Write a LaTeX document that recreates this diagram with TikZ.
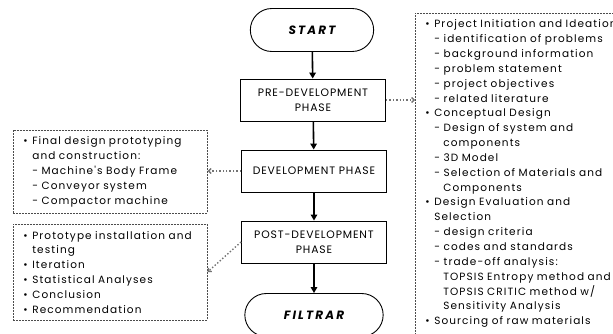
\documentclass[tikz,border=0pt]{standalone}
\usepackage{fontspec}
\setmainfont{Poppins}
\newfontfamily\notefont[LetterSpace=10.5]{Poppins}
\newfontfamily\phasefont[LetterSpace=8]{Poppins}
\newfontfamily\termfont[LetterSpace=18]{Poppins}
\usetikzlibrary{arrows.meta,shapes.misc}

\newcommand{\bul}{\makebox[9pt][l]{\textbullet}}
\newcommand{\ind}{\hspace*{9pt}}

\begin{document}
\begin{tikzpicture}[x=1pt,y=-1pt]

\tikzset{
  TermStyle/.style = { rounded rectangle, draw, line width=0.9pt,
                       minimum width=130pt, minimum height=43pt,
                       font = \termfont\fontsize{12}{14}\selectfont\bfseries\itshape },
  PhaseStyle/.style = { rectangle, draw, line width=0.9pt,
                        minimum width=145pt, minimum height=42pt,
                        align=center, font = \phasefont\fontsize{10.8}{15}\selectfont },
  NoteStyle/.style = { rectangle, draw=black!70, dash pattern=on 2pt off 1pt,
                       line width=0.6pt, anchor=north west, align=left,
                       inner xsep=10pt, inner ysep=6.5pt,
                       font = \notefont\fontsize{10.5}{14.85}\selectfont },
  FlowStyle/.style = { -{Triangle[length=6pt,width=6.5pt]}, line width=1.6pt },
  LinkStyle/.style = { -{Straight Barb[length=2.5pt,width=5pt]}, dotted,
                       line width=1.4pt, draw=black!55 } }

  \useasboundingbox (0,0) rectangle (613,334);
  \clip (0,0) rectangle (613,334);

  \node[TermStyle] (start) at (312, 30) {START};
  \node[PhaseStyle] (pre) at (313, 100) {PRE-DEVELOPMENT\\PHASE};
  \node[PhaseStyle] (dev) at (314, 171) {DEVELOPMENT PHASE};
  \node[PhaseStyle] (post) at (314, 242) {POST-DEVELOPMENT\\PHASE};
  \node[TermStyle, minimum width=145pt] (end) at (314, 315) {FILTRAR};

  \node[NoteStyle, text width=240pt] (preNote) at (415, 13)
    {\bul Project Initiation and Ideation\\
     \ind - identification of problems\\
     \ind - background information\\
     \ind - problem statement\\
     \ind - project objectives\\
     \ind - related literature\\
     \bul Conceptual Design\\
     \ind - Design of system and\\
     \ind\ind components\\
     \ind - 3D Model\\
     \ind - Selection of Materials and\\
     \ind\ind Components\\
     \bul Design Evaluation and\\
     \ind Selection\\
     \ind - design criteria\\
     \ind - codes and standards\\
     \ind - trade-off analysis:\\
     \ind\ind TOPSIS Entropy method and\\
     \ind\ind TOPSIS CRITIC method w/\\
     \ind\ind Sensitivity Analysis\\
     \bul Sourcing of raw materials\\
     \rule{0pt}{20pt}};

  \node[NoteStyle, text width=174pt, minimum height=82pt] (devNote) at (13, 130)
    {\bul Final design prototyping\\
     \ind and construction:\\
     \ind - Machine's Body Frame\\
     \ind - Conveyor system\\
     \ind - Compactor machine};

  \node[NoteStyle, text width=174pt, minimum height=96pt] (postNote) at (13, 224)
    {\bul Prototype installation and\\
     \ind testing\\
     \bul Iteration\\
     \bul Statistical Analyses\\
     \bul Conclusion\\
     \bul Recommendation};

  % main flow
  \draw[FlowStyle] (start) -- (pre);
  \draw[FlowStyle] (pre) -- (dev);
  \draw[FlowStyle] (dev) -- (post);
  \draw[FlowStyle] (post) -- (end);

  % notes
  \draw[LinkStyle] (pre.east) -- (preNote.west |- pre.east);
  \draw[LinkStyle] (dev.west) -- (devNote.east |- dev.west);
  \draw[LinkStyle] (post.west) -- (postNote.east |- 0,272);

\end{tikzpicture}
\end{document}
